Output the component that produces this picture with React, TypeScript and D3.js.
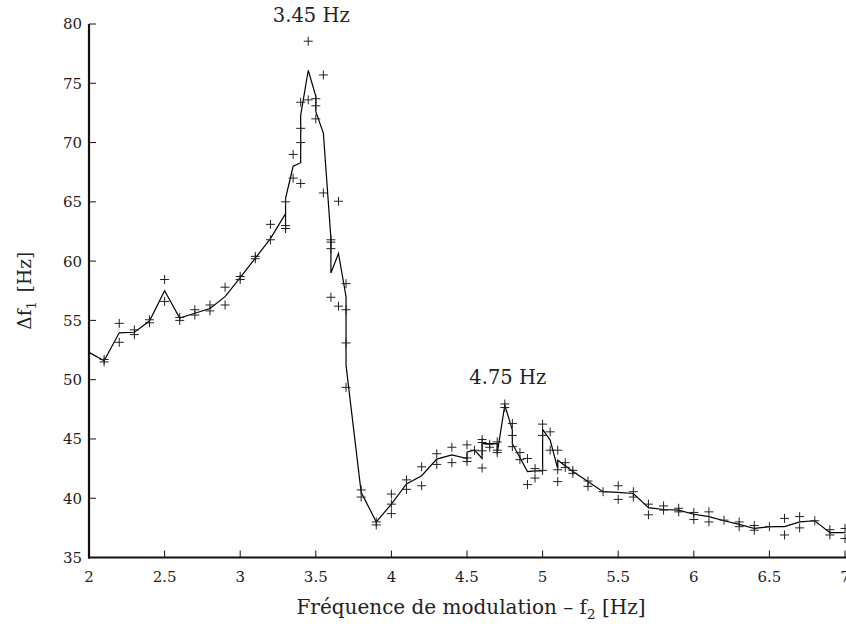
import React from 'react';
import * as d3 from 'd3';

// Solid line (frequency, Δf1)
const lineF = [2.0, 2.1, 2.2, 2.3, 2.4, 2.5, 2.6, 2.7, 2.8, 2.9, 3.0, 3.1, 3.2, 3.3, 3.3, 3.3, 3.35, 3.4, 3.4, 3.45, 3.5, 3.5, 3.55, 3.6, 3.6, 3.65, 3.7, 3.7, 3.8, 3.9, 4.0, 4.1, 4.2, 4.3, 4.4, 4.5, 4.5, 4.55, 4.6, 4.6, 4.7, 4.7, 4.75, 4.8, 4.8, 4.9, 4.95, 5.0, 5.0, 5.05, 5.1, 5.1, 5.2, 5.3, 5.4, 5.5, 5.6, 5.7, 5.8, 5.9, 6.0, 6.1, 6.2, 6.3, 6.4, 6.5, 6.6, 6.7, 6.8, 6.9, 7.0];
const lineV = [52.3, 51.6, 53.95, 54.0, 54.95, 57.5, 55.2, 55.6, 56.0, 57.0, 58.6, 60.25, 61.9, 64.0, 62.5, 65.3, 68.0, 68.3, 72.3, 76.1, 73.9, 72.6, 70.8, 61.9, 59.0, 60.65, 57.0, 51.2, 40.5, 38.0, 39.5, 41.2, 41.9, 43.3, 43.65, 43.35, 43.9, 44.05, 43.35, 44.6, 44.6, 43.8, 47.85, 45.75, 44.6, 42.25, 42.3, 42.3, 45.8, 44.9, 42.5, 43.2, 42.25, 41.4, 40.55, 40.5, 40.4, 39.2, 39.05, 39.0, 38.65, 38.45, 38.1, 37.8, 37.45, 37.6, 37.6, 38.0, 38.1, 37.1, 37.1];

// Individual measurements (+ markers)
const markF = [
  2.1, 2.1, 2.2, 2.2, 2.3, 2.3, 2.4, 2.4, 2.5, 2.5, 2.6, 2.6, 2.7, 2.7, 2.8, 2.8, 2.9, 2.9, 3.0, 3.0,
  3.1, 3.1, 3.2, 3.2, 3.3, 3.3, 3.3, 3.35, 3.35, 3.4, 3.4, 3.4, 3.4, 3.45, 3.45, 3.5, 3.5, 3.5,
  3.55, 3.55, 3.6, 3.6, 3.6, 3.6, 3.65, 3.65, 3.7, 3.7, 3.7, 3.7, 3.8, 3.8, 3.9, 3.9, 4.0, 4.0, 4.0,
  4.1, 4.1, 4.2, 4.2, 4.3, 4.3, 4.4, 4.4, 4.5, 4.5, 4.5, 4.55, 4.6, 4.6, 4.6, 4.6, 4.65, 4.65,
  4.7, 4.7, 4.7, 4.75, 4.75, 4.8, 4.8, 4.8, 4.85, 4.85, 4.9, 4.9, 4.95, 4.95, 5.0, 5.0, 5.0,
  5.05, 5.05, 5.1, 5.1, 5.1, 5.15, 5.15, 5.2, 5.2, 5.3, 5.3, 5.4, 5.5, 5.5, 5.6, 5.6, 5.7, 5.7,
  5.8, 5.8, 5.9, 5.9, 6.0, 6.0, 6.1, 6.1, 6.2, 6.3, 6.3, 6.4, 6.4, 6.5, 6.6, 6.6, 6.7, 6.7, 6.8,
  6.9, 6.9, 7.0, 7.0,
];
const markV = [
  51.7, 51.5, 54.75, 53.15, 54.2, 53.8, 55.05, 54.8, 58.45, 56.6, 55.25, 55.0, 55.9, 55.45, 56.3, 55.8, 57.8, 56.3, 58.7, 58.45,
  60.4, 60.2, 63.1, 61.8, 65.0, 63.0, 62.75, 69.0, 67.0, 73.4, 71.2, 70.0, 66.55, 78.55, 73.6, 73.7, 73.1, 72.0,
  75.7, 65.75, 61.8, 61.6, 61.05, 56.95, 65.05, 56.2, 58.1, 55.9, 53.1, 49.35, 40.7, 40.1, 38.0, 37.75, 40.35, 39.5, 38.7,
  41.55, 40.75, 42.65, 41.05, 43.75, 42.85, 44.3, 43.0, 44.5, 43.4, 43.1, 44.05, 44.95, 44.7, 44.0, 42.55, 44.55, 44.3,
  44.75, 44.05, 43.85, 47.95, 47.65, 46.3, 45.3, 44.35, 43.85, 43.25, 43.35, 41.15, 42.5, 41.7, 46.25, 45.3, 42.35,
  45.6, 44.05, 44.05, 42.4, 41.4, 43.0, 42.6, 42.35, 42.1, 41.45, 41.0, 40.55, 41.05, 39.9, 40.55, 40.1, 39.5, 38.6,
  39.35, 39.0, 39.15, 38.85, 38.8, 38.2, 38.85, 38.0, 38.15, 38.0, 37.6, 37.7, 37.3, 37.6, 38.3, 36.9, 38.45, 37.5, 38.1,
  37.35, 36.9, 37.45, 36.6,
];

const xTicks = [2, 2.5, 3, 3.5, 4, 4.5, 5, 5.5, 6, 6.5, 7];
const yTicks = [35, 40, 45, 50, 55, 60, 65, 70, 75, 80];

const peakF = [3.45, 4.75];
const peakV = [80.2, 49.6];
const peakLabels = ['3.45 Hz', '4.75 Hz'];

const W = 846;
const H = 624;
const FONT = '"DejaVu Serif", serif';

export default function App() {
  const x = d3.scaleLinear().domain([2, 7]).range([89, 845]);
  const y = d3.scaleLinear().domain([35, 80]).range([557.5, 24]);
  const line = d3
    .line<number>()
    .x((_, i) => x(lineF[i]))
    .y((d) => y(d));
  const crossPath = markF
    .map((f, i) => {
      const cx = x(f);
      const cy = y(markV[i]);
      return `M${cx - 4.5},${cy}H${cx + 4.5}M${cx},${cy - 4.5}V${cy + 4.5}`;
    })
    .join('');

  const x0 = x(2);
  const y0 = y(35);

  return (
    <svg
      width={W}
      height={H}
      style={{ position: 'absolute', left: 0, top: 0, background: '#fff' }}
      fontFamily={FONT}
    >
      <rect width={W} height={H} fill="#fff" />
      {/* data */}
      <path d={line(lineV) || ''} fill="none" stroke="#000" strokeWidth={1.2} strokeLinejoin="miter" />
      <path d={crossPath} fill="none" stroke="#222" strokeWidth={1} />

      {/* axes */}
      <line x1={x0} y1={y(80)} x2={x0} y2={y0 + 1} stroke="#111" strokeWidth={2.2} />
      <line x1={x0 - 1} y1={y0} x2={x(7) + 2} y2={y0} stroke="#111" strokeWidth={2.2} />
      {yTicks.map((t) => (
        <g key={'y' + t}>
          <line x1={x0} x2={x0 + 7} y1={y(t)} y2={y(t)} stroke="#111" strokeWidth={1} />
          <text x={x0 - 7} y={y(t)} dy="0.36em" textAnchor="end" fontSize={15} fill="#222">
            {t}
          </text>
        </g>
      ))}
      {xTicks.map((t) => (
        <g key={'x' + t}>
          <line x1={x(t)} x2={x(t)} y1={y0} y2={y0 - 7} stroke="#111" strokeWidth={1} />
          <text x={x(t)} y={y0 + 24.5} textAnchor="middle" fontSize={15} fill="#222">
            {t}
          </text>
        </g>
      ))}

      {/* annotations */}
      {peakF.map((f, i) => (
        <text key={'p' + i} x={x(f) + 3} y={y(peakV[i])} textAnchor="middle" fontSize={19.5} fill="#222">
          {peakLabels[i]}
        </text>
      ))}

      {/* axis titles */}
      <text x={(x(2) + x(7)) / 2 + 4} y={614} textAnchor="middle" fontSize={20} fill="#222">
        {'Fréquence de modulation – f'}
        <tspan dy={5} fontSize={13.5}>2</tspan>
        <tspan dy={-5}>{' [Hz]'}</tspan>
      </text>
      <text
        transform={`translate(31, ${(y(35) + y(80)) / 2}) rotate(-90)`}
        textAnchor="middle"
        fontSize={18.5}
        fill="#222"
      >
        {'Δf'}
        <tspan dy={5} fontSize={13}>1</tspan>
        <tspan dy={-5} dx={9}>{'[Hz]'}</tspan>
      </text>
    </svg>
  );
}
